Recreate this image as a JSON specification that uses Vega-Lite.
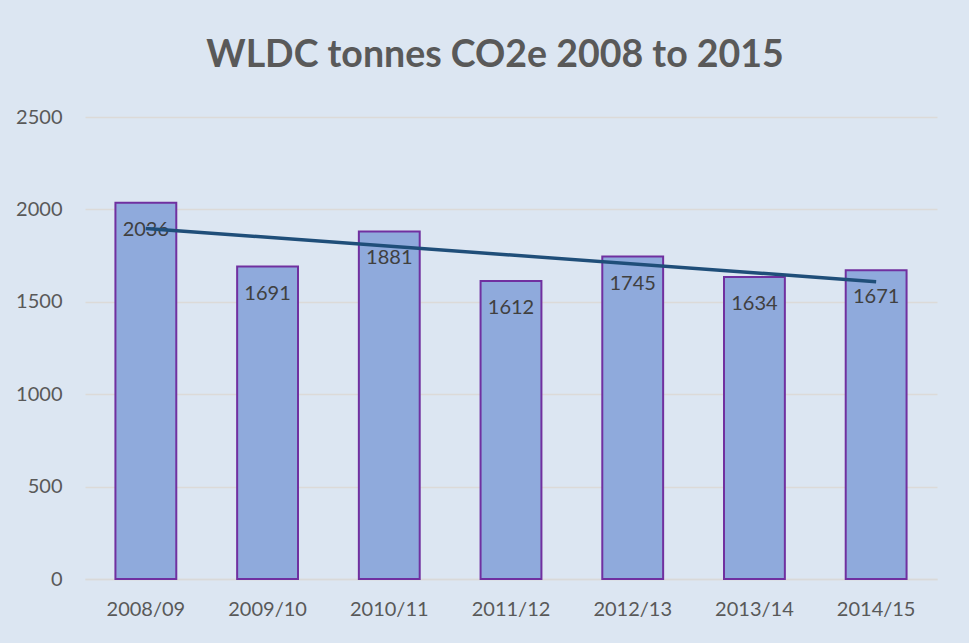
{
  "$schema": "https://vega.github.io/schema/vega-lite/v6.json",
  "autosize": "none",
  "width": 852,
  "height": 462,
  "padding": {"left": 85, "top": 117, "right": 32, "bottom": 64},
  "background": "#dce6f2",
  "config": {
    "view": {"stroke": null},
    "font": "Lato",
    "axis": {"labelFont": "Lato", "labelColor": "#595959", "labelFontSize": 20, "titleFont": "Lato"}
  },
  "title": {
    "text": "WLDC tonnes CO2e 2008 to 2015",
    "font": "Lato",
    "fontSize": 37.5,
    "fontWeight": "bold",
    "color": "#595959",
    "anchor": "middle",
    "dx": -16,
    "offset": 33
  },
  "datasets": {
    "bars": [
      {"period": "2008/09", "tonnes": 2036},
      {"period": "2009/10", "tonnes": 1691},
      {"period": "2010/11", "tonnes": 1881},
      {"period": "2011/12", "tonnes": 1612},
      {"period": "2012/13", "tonnes": 1745},
      {"period": "2013/14", "tonnes": 1634},
      {"period": "2014/15", "tonnes": 1671}
    ],
    "trend": [
      {"period": "2008/09", "tonnes": 1897},
      {"period": "2014/15", "tonnes": 1609}
    ]
  },
  "encoding": {
    "x": {
      "field": "period",
      "type": "nominal",
      "sort": null,
      "scale": {"paddingInner": 0.5, "paddingOuter": 0.25},
      "axis": {"title": null, "labelAngle": 0, "ticks": false, "labelPadding": 20, "domainColor": "#d9d9d9", "domainWidth": 1.5, "grid": false}
    },
    "y": {
      "field": "tonnes",
      "type": "quantitative",
      "scale": {"domain": [0, 2500]},
      "axis": {"title": null, "values": [0, 500, 1000, 1500, 2000, 2500], "format": "d", "ticks": false, "domain": false, "labelPadding": 23, "gridColor": "#dcdad8", "gridWidth": 1.3}
    }
  },
  "layer": [
    {
      "data": {"name": "bars"},
      "mark": {"type": "bar", "color": "#8faadc", "stroke": "#7030a0", "strokeWidth": 2}
    },
    {
      "data": {"name": "bars"},
      "mark": {"type": "text", "dy": 27, "baseline": "middle", "fontSize": 20, "color": "#404040", "font": "Lato"},
      "encoding": {"text": {"field": "tonnes", "type": "quantitative"}}
    },
    {
      "data": {"name": "trend"},
      "mark": {"type": "line", "color": "#1f4e79", "strokeWidth": 3.5},
      "encoding": {}
    }
  ]
}
